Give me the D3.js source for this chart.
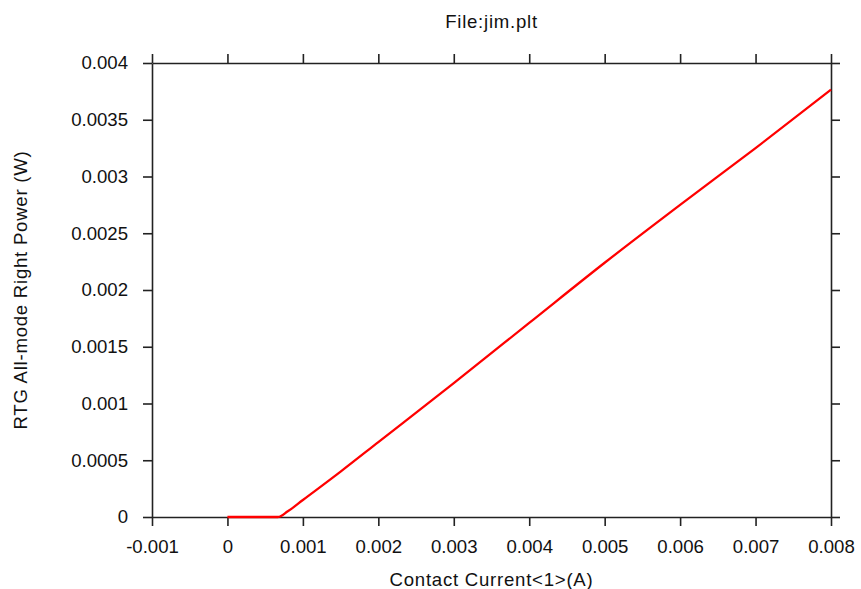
<!DOCTYPE html>
<html>
<head>
<meta charset="utf-8">
<script src="https://cdn.jsdelivr.net/npm/d3@7"></script>
<style>
  html, body { margin: 0; padding: 0; background: #fff; }
  svg { display: block; font-family: "Liberation Sans", Arial, sans-serif; }
  .label { letter-spacing: 0.75px; }
</style>
</head>
<body>
<svg id="chart" width="861" height="589"></svg>
<script>
// Contact current sweep (A) and right-side power (W)
const current = [0, 0.0002, 0.0004, 0.0006, 0.00067, 0.0008, 0.001, 0.0015, 0.002, 0.003, 0.004, 0.005, 0.006, 0.007, 0.008];
const power   = [0, 0, 0, 0, 0, 0.00005, 0.00015, 0.0004, 0.00066, 0.00118, 0.00171, 0.00224, 0.00275, 0.00325, 0.003765];

const xTicks = [-0.001, 0, 0.001, 0.002, 0.003, 0.004, 0.005, 0.006, 0.007, 0.008];
const yTicks = [0, 0.0005, 0.001, 0.0015, 0.002, 0.0025, 0.003, 0.0035, 0.004];

const titleText = "File:jim.plt";
const xLabel = "Contact Current<1>(A)";
const yLabel = "RTG All-mode Right Power (W)";

const svg = d3.select("#chart");
const m = { left: 152, right: 831, top: 63, bottom: 517 };

const x = d3.scaleLinear().domain([-0.001, 0.008]).range([m.left, m.right]);
const y = d3.scaleLinear().domain([0, 0.004]).range([m.bottom, m.top]);

const fmt = d => d === 0 ? "0" : String(+d.toPrecision(2));
const axisColor = "#222";
const tickLen = 9;
const fontSize = "18.6px";

function styleAxis(g) {
  g.selectAll("path.domain").attr("stroke", axisColor).attr("stroke-width", 1.6);
  g.selectAll(".tick line").attr("stroke", axisColor).attr("stroke-width", 1.6);
  g.selectAll(".tick text").attr("fill", "#111").style("font-size", fontSize);
}

// bottom axis with labels
svg.append("g")
  .attr("transform", `translate(0,${m.bottom})`)
  .call(d3.axisBottom(x).tickValues(xTicks).tickFormat(fmt).tickSizeInner(tickLen).tickSizeOuter(0).tickPadding(11))
  .call(styleAxis)
  .call(g => g.selectAll(".tick text").attr("dy", "0.85em"));

// top axis, ticks only
svg.append("g")
  .attr("transform", `translate(0,${m.top})`)
  .call(d3.axisTop(x).tickValues(xTicks).tickFormat("").tickSizeInner(tickLen).tickSizeOuter(0))
  .call(styleAxis);

// left axis with labels
svg.append("g")
  .attr("transform", `translate(${m.left},0)`)
  .call(d3.axisLeft(y).tickValues(yTicks).tickFormat(fmt).tickSizeInner(tickLen).tickSizeOuter(0).tickPadding(15))
  .call(styleAxis);

// right axis, ticks only
svg.append("g")
  .attr("transform", `translate(${m.right},0)`)
  .call(d3.axisRight(y).tickValues(yTicks).tickFormat("").tickSizeInner(tickLen).tickSizeOuter(0))
  .call(styleAxis);

// power curve
const pts = current.map((c, i) => [c, power[i]]);
svg.append("path")
  .datum(pts)
  .attr("fill", "none")
  .attr("stroke", "#ff0000")
  .attr("stroke-width", 2.3)
  .attr("stroke-linejoin", "round")
  .attr("d", d3.line().x(d => x(d[0])).y(d => y(d[1])).curve(d3.curveMonotoneX));

// title and axis labels
svg.append("text")
  .attr("class", "label")
  .attr("x", (m.left + m.right) / 2).attr("y", 28)
  .attr("text-anchor", "middle").style("font-size", fontSize).attr("fill", "#111")
  .text(titleText);

svg.append("text")
  .attr("class", "label")
  .attr("x", (m.left + m.right) / 2).attr("y", 586)
  .attr("text-anchor", "middle").style("font-size", fontSize).attr("fill", "#111")
  .text(xLabel);

svg.append("text")
  .attr("class", "label")
  .attr("transform", `translate(27,${(m.top + m.bottom) / 2}) rotate(-90)`)
  .attr("text-anchor", "middle").style("font-size", fontSize).attr("fill", "#111")
  .text(yLabel);
</script>
</body>
</html>
